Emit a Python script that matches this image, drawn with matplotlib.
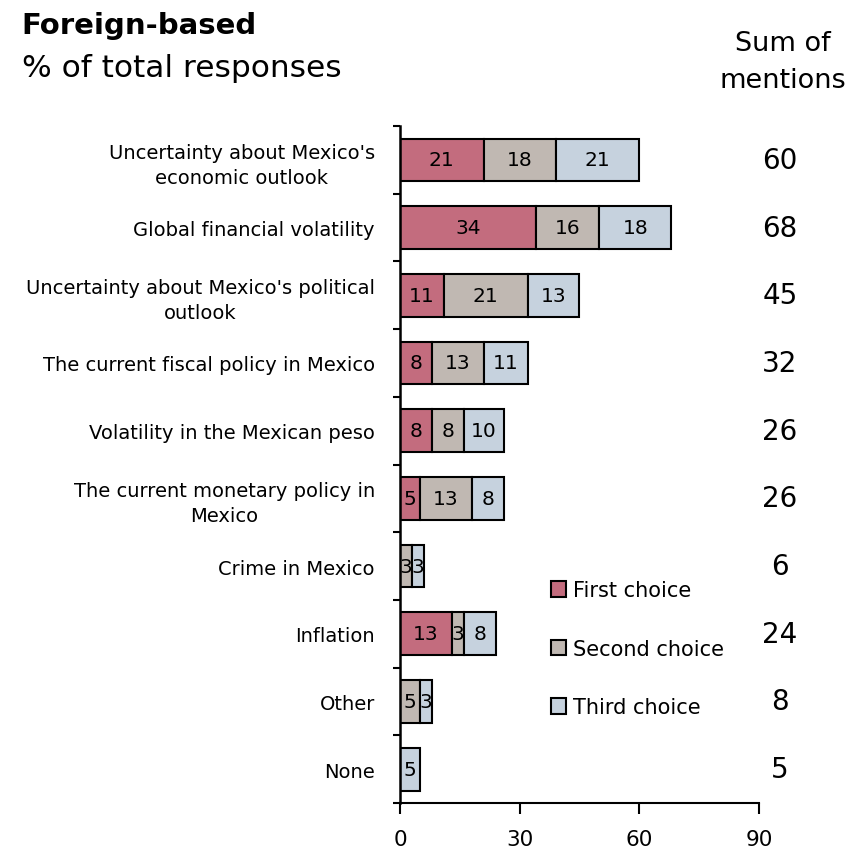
"""Foreign-based survey: stacked horizontal bars of first/second/third choice."""

import matplotlib
matplotlib.use("Agg")
import matplotlib.pyplot as plt
import numpy as np

categories = [
    "Uncertainty about Mexico's\neconomic outlook",
    "Global financial volatility",
    "Uncertainty about Mexico's political\noutlook",
    "The current fiscal policy in Mexico",
    "Volatility in the Mexican peso",
    "The current monetary policy in\nMexico",
    "Crime in Mexico",
    "Inflation",
    "Other",
    "None",
]
first_choice = [21, 34, 11, 8, 8, 5, 0, 13, 0, 0]
second_choice = [18, 16, 21, 13, 8, 13, 3, 3, 5, 0]
third_choice = [21, 18, 13, 11, 10, 8, 3, 8, 3, 5]
series_names = ["First choice", "Second choice", "Third choice"]
colors = ["#C36C7E", "#C0B8B2", "#C6D2DE"]
x_ticks = [0, 30, 60, 90]

plt.rcParams["font.family"] = ["DejaVu Sans"]

fig = plt.figure(figsize=(8.62, 8.54), dpi=100)
ax = fig.add_axes([0.464, 0.0585, 0.4165, 0.7928])

y = np.arange(len(categories))
series = [first_choice, second_choice, third_choice]
left = np.zeros(len(categories))
for vals, name, col in zip(series, series_names, colors):
    vals = np.array(vals, dtype=float)
    bars = ax.barh(y, vals, left=left, height=0.63, color=col,
                   edgecolor="black", linewidth=1.5, label=name)
    for b, v in zip(bars, vals):
        if v > 0:
            ax.text(b.get_x() + b.get_width() / 2, b.get_y() + b.get_height() / 2,
                    f"{int(v)}", ha="center", va="center", fontsize=14.5)
    left += vals

totals = left
for yi, t in zip(y, totals):
    ax.text(1.058, yi, f"{int(t)}", transform=ax.get_yaxis_transform(),
            ha="center", va="center", fontsize=20)

ax.set_ylim(len(categories) - 0.5, -0.5)
ax.set_xlim(0, 90)
ax.set_xticks(x_ticks)
ax.set_yticks(y)
ax.set_yticklabels(categories, fontsize=14, ha="right", multialignment="center",
                   linespacing=1.4)
ax.set_yticks(np.arange(-0.5, len(categories)), minor=True)
ax.tick_params(axis="y", which="major", length=0, pad=18)
ax.tick_params(axis="y", which="minor", length=5, width=1.5, direction="out")
ax.tick_params(axis="x", length=8, width=1.5, direction="out", labelsize=15.5, pad=11)

for side in ["top", "right"]:
    ax.spines[side].set_visible(False)
ax.spines["left"].set_linewidth(1.8)
ax.spines["bottom"].set_linewidth(1.5)

ax.legend(loc="upper left", bbox_to_anchor=(0.42, 0.329), frameon=False,
          fontsize=15, handlelength=0.75, handleheight=0.75, handletextpad=0.3,
          labelspacing=1.85, borderpad=0, borderaxespad=0)

fig.text(0.025, 0.969, "Foreign-based", fontsize=21, fontweight="bold", va="center")
fig.text(0.025, 0.920, "% of total responses", fontsize=22.5, va="center")
fig.text(0.908, 0.927, "Sum of\nmentions", fontsize=19.5, ha="center", va="center",
         linespacing=1.55)

fig.savefig("out.png", dpi=100)
